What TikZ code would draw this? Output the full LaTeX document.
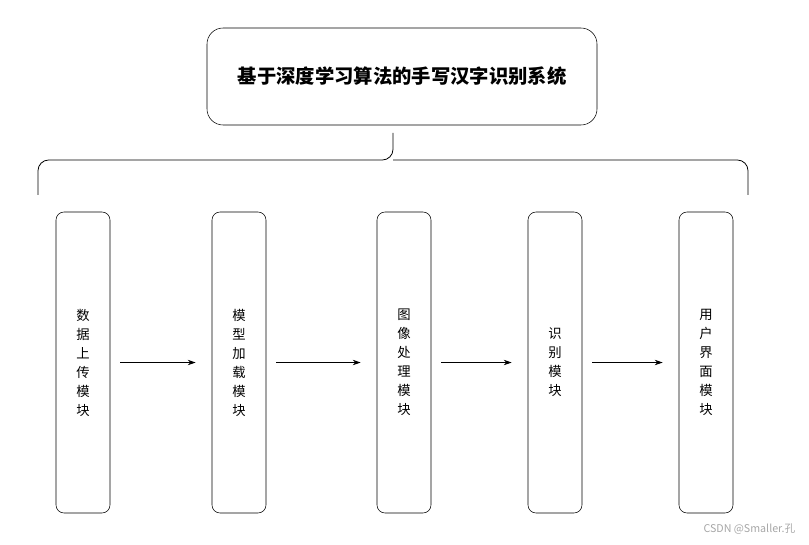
\documentclass[tikz,border=0pt]{standalone}
\usepackage{fontspec}
\newfontfamily\cjk{Noto Sans CJK SC}
\usetikzlibrary{arrows.meta,positioning}

\begin{document}
\begin{tikzpicture}[x=0.75pt,y=-0.75pt]
% ---------------------------------------------------------
% Styles
% ---------------------------------------------------------
\tikzset{
  title box/.style={draw=black, rounded corners=12pt, minimum width=292.5pt,
    minimum height=72.75pt, font=\cjk\bfseries\fontsize{14.5}{17}\selectfont},
  module box/.style={draw=black, rounded corners=6pt, minimum width=40.5pt,
    minimum height=225.75pt, align=center,
    font=\cjk\fontsize{10}{14.25}\selectfont},
  flow arrow/.style={-{Stealth[length=6pt,width=4pt]}, line width=0.6pt,
    shorten <=7.5pt, shorten >=12pt}
}

% Bounding box (reference proportions)
\useasboundingbox (0,0) rectangle (809,545);

% =========================================================
% 1) TITLE + BRACE
% =========================================================
\node[title box] (title) at (402,76.5) {基于深度学习算法的手写汉字识别系统};

\draw[line width=0.6pt, rounded corners=8pt]
  (38,195) -- (38,160) -- (393,160) -- (393,133);
\draw[line width=0.6pt, rounded corners=8pt]
  (748,195) -- (748,160) -- (393,160);

% =========================================================
% 2) MODULES
% =========================================================
\node[module box] (upload)  at (83,362.5)  {数\\据\\上\\传\\模\\块};
\node[module box] (load)    at (239,362.5) {模\\型\\加\\载\\模\\块};
\node[module box] (image)   at (404,362.5) {图\\像\\处\\理\\模\\块};
\node[module box] (recog)   at (555,362.5) {识\\别\\模\\块};
\node[module box] (ui)      at (706,362.5) {用\\户\\界\\面\\模\\块};

% =========================================================
% 3) ARROWS
% =========================================================
\draw[flow arrow] (upload) -- (load);
\draw[flow arrow] (load) -- (image);
\draw[flow arrow] (image) -- (recog);
\draw[flow arrow] (recog) -- (ui);

% Watermark
\node[text=gray!70, font=\cjk\fontsize{8}{10}\selectfont, anchor=east]
  (mark) at (800,529) {CSDN @Smaller.孔};

\end{tikzpicture}
\end{document}
